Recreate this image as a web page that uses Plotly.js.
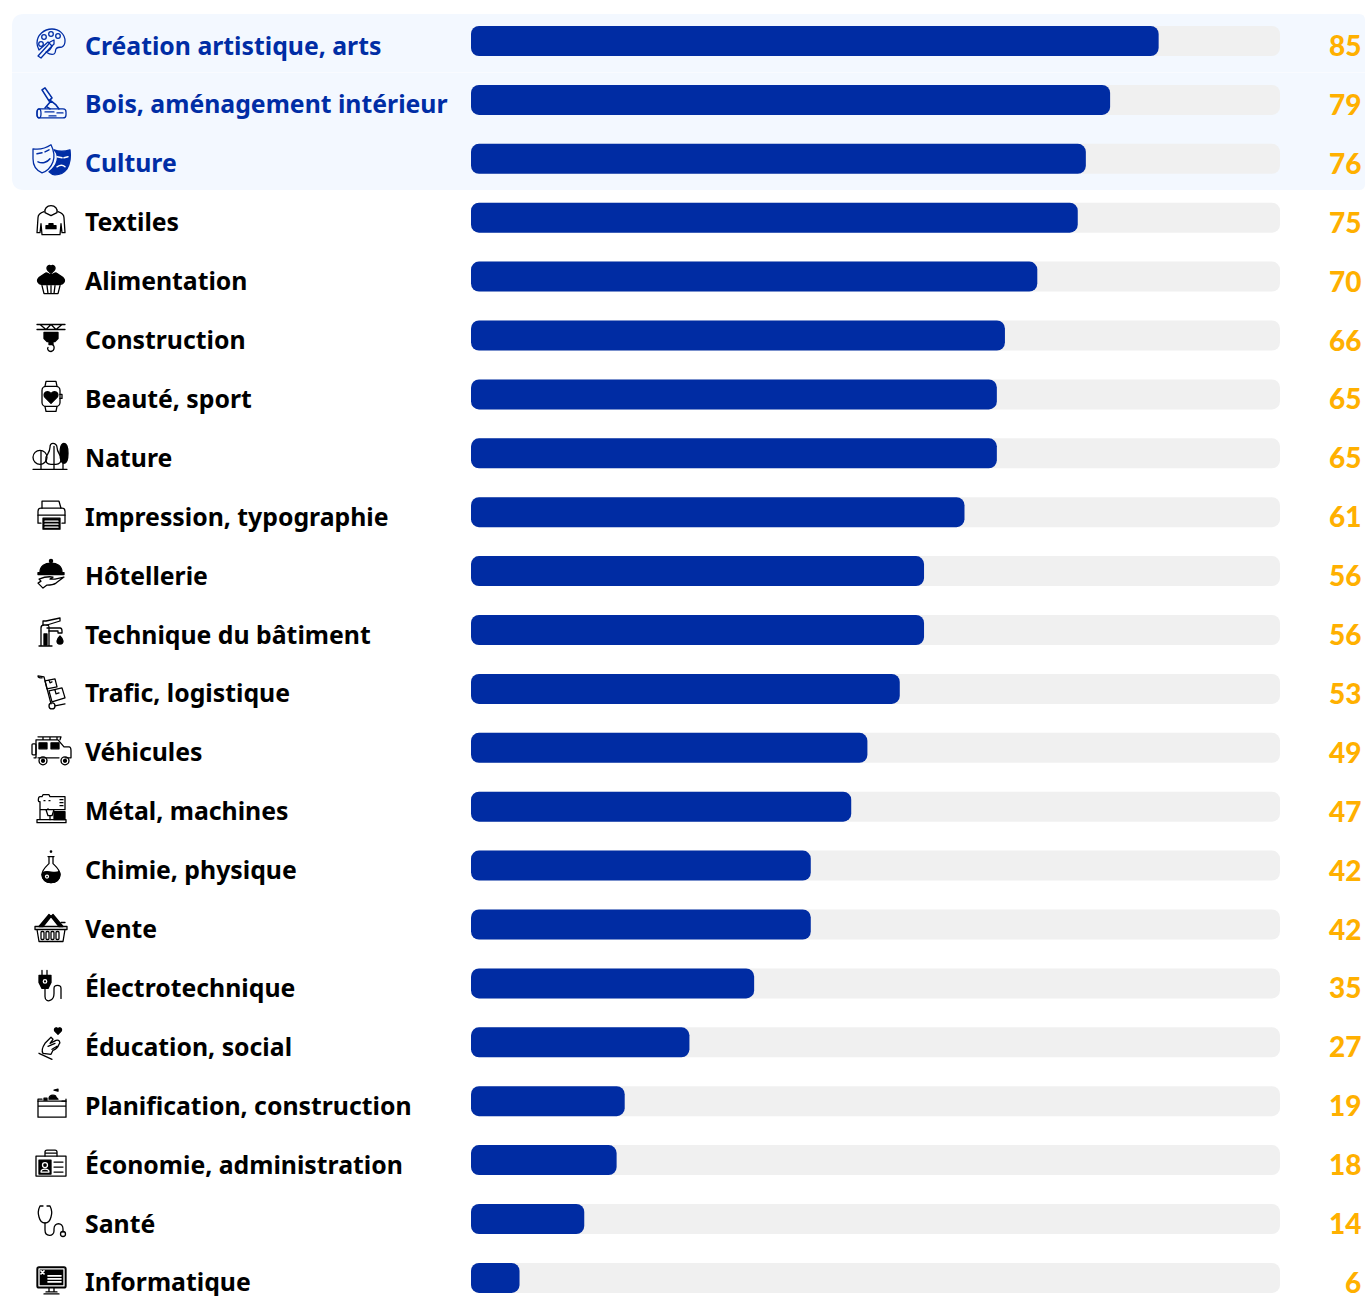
<!DOCTYPE html>
<html>
<head>
<meta charset="utf-8">
<script src="https://cdn.plot.ly/plotly-3.0.1.min.js"></script>
<style>html,body{margin:0;padding:0;background:#fff;overflow:hidden}#chart{width:1365px;height:1296px}</style>
</head>
<body>
<div id="chart"></div>
<script>
const categories = ["Création artistique, arts","Bois, aménagement intérieur","Culture","Textiles","Alimentation","Construction","Beauté, sport","Nature","Impression, typographie","Hôtellerie","Technique du bâtiment","Trafic, logistique","Véhicules","Métal, machines","Chimie, physique","Vente","Électrotechnique","Éducation, social","Planification, construction","Économie, administration","Santé","Informatique"];
const values = [85,79,76,75,70,66,65,65,61,56,56,53,49,47,42,42,35,27,19,18,14,6];
const trackMax = 100;
const highlighted = ["Création artistique, arts","Bois, aménagement intérieur","Culture"];

const BLUE = "#002DA5", INK = "#000000", GOLD = "#FFB000", TRACK = "#F0F0F0", BAND = "#F3F8FF";
const W = 1365, H = 1296, PL = 471, PR = 1280, TOP = 41, STEP = 58.9;
const px = x => (x - PL) / (PR - PL);
const py = y => 1 - y / H;

const icons = [
 `<path d="M25 10c-8 0-15 6-15 14 0 3 1 5 2 7l9-8 4 4c-1 3-3 5-6 6 3 2 6 3 8 2 2-1 1-3 2-5 1-2 3-2 6-2 2-1 3-2 3-6 0-7-6-12-13-12z"/><circle cx="17" cy="18" r="2.3"/><circle cx="24" cy="15" r="2.3"/><circle cx="31" cy="17" r="2.3"/><circle cx="14" cy="25" r="2.3"/><path d="M11 37l10-11 2-3 4-2 0 4-3 3-10 11z"/>`,
 `<rect x="10" y="31" width="29" height="9" rx="3"/><ellipse cx="12" cy="35.5" rx="2" ry="4.5"/><path d="M18 34h9M30 35h6M22 38h7"/><path d="M18 30l6-7 5 4 3 4M15 12l3-2 7 10-3 3zM20 29l3 2" stroke-width="1.6"/>`,
 `<path class="k" d="M27 13c5 2 10 2 16 0 1 7 0 14-3 19-3 4-8 6-12 6-2 0-5-2-6-3 4-3 7-7 8-11 1-4 0-8-3-11z"/><path d="M30 20l5 1M37 21l4-1M30 30c3-2 6-2 8 0" stroke="#fff" stroke-width="1.500"/><path d="M6 12c6 1 12 0 18-4 3 6 4 11 2 17-2 6-7 10-11 11-5-2-9-7-9-14z" fill="#F3F8FF"/><path d="M10 17l5-1M18 15l4-2M11 25c4 2 9 1 12-3" stroke-width="1.500"/>`,
 `<path d="M17 16c-3 1-6 3-6 6l-1 15h3l1-9 1 11h18l1-11 1 9h3l-1-15c0-3-3-5-6-6"/><path d="M18 17c-1-4 2-7 6-7s7 3 6 7l-6 3z"/><path class="k" d="M19 33v-3h3v-2h4v2h3v3z"/>`,
 `<path class="k" d="M24 20c-3 0-4-3-6-1l-6 4c-3 3-1 6 3 7h18c4-1 6-4 3-7l-6-4c-2-2-3 1-6 1z"/><path class="k" d="M24 19l-3-3c-3-4 2-7 3-4 1-3 6 0 3 4z"/><path d="M15 31l2 8h14l2-8M20 31l1 8M24 31v8M28 31l-1 8"/>`,
 `<path d="M10 11h28M13 11l6 5 5-5 5 5 6-5M10 16h28"/><path class="k" d="M17 19h14v6l-3 3h-8l-3-3z"/><rect class="k" x="22" y="28" width="4" height="3"/><path d="M25 31c3 1 3 6-1 7-3 0-4-3-3-4"/>`,
 `<rect x="15" y="14" width="18" height="20" rx="4"/><path d="M18 14l1-5h10l1 5M18 34l1 5h10l1-5M33 22h2v4h-2"/><path class="k" d="M24 31l-6-6c-3-4 2-8 6-4 4-4 9 0 6 4z"/>`,
 `<g transform="translate(-2 0)"><path d="M8 38h34M16 38V20M29 38V15M38 38V20"/><circle cx="15" cy="26" r="7"/><path d="M26 33c-4 0-6-2-5-7 1-3 4-5 4-10 0-2 1-4 3-4s4 2 4 4c0 5 3 7 4 10 1 5-2 7-5 7z"/><path class="k" d="M39 12c3 0 4 5 4 10 0 6-1 10-4 10s-4-4-4-10c0-5 1-10 4-10z"/></g>`,
 `<path d="M15 18v-7h17l2 7"/><path d="M14 33H11V21c0-2 1-3 3-3h21c2 0 3 1 3 3v12h-3"/><path d="M11 25h27"/><path class="k" d="M16 28h17v11H16z"/><path d="M18 31h13M18 34h13M18 37h13" stroke="#fff"/>`,
 `<path class="k" d="M13 23c0-6 5-9 11-9s11 3 11 9z"/><circle class="k" cx="24" cy="12" r="1.6"/><path class="k" d="M11 23.500h26v2H11z"/><path d="M12 30c5-2 9-3 14-2l-3 2h5l9-2-8 6c-3 2-6 2-9 2l-4 3-5-5 3-2z"/>`,
 `<path d="M14 38V20c0-2 1-3 3-3h3c2 0 2 1 2 3v18zM12 38h13"/><path d="M16 17v-4h3l14-3v3l-13 4"/><path d="M20 20h13c1 0 2 1 2 3v2h-4v-2H22"/><path class="k" d="M33 28c2 2 3 4 3 5a3 3 0 0 1-6 0c0-1 1-3 3-5z"/><path class="k" d="M17 26h3v11h-3z"/>`,
 `<path d="M11 9l6 1 7 27M11 9c0 2 2 2 4 2"/><circle cx="25" cy="39" r="3"/><path d="M18 14l10-2 2 8-10 2zM22 24l13-3 3 10-13 4zM22 13l1 3 2-1M28 23l1 4 3-1M28 39l10-2"/>`,
 `<g transform="translate(-2 0)"><rect x="7" y="18" width="4" height="11" rx="1"/><path d="M11 14h22l6 7h5c2 0 2 2 2 4v7h-6M9 32h2v-18M13 32h21M13 11h23l-1 3M18 11v3M25 11v3M32 11v3"/><path class="k" d="M14 17h8v6h-8zM26 17h8v6h-8z"/><circle cx="18" cy="35" r="4"/><circle cx="40" cy="35" r="4"/><circle class="k" cx="18" cy="35" r="1.5"/><circle class="k" cx="40" cy="35" r="1.500"/></g>`,
 `<path d="M10 38h29v-3H10zM13 35V17h-1c-1 0-1-5 1-5h2l1-2h6l1 2h15v13H13M21 25v-1M19 25h8l-2 6h-4z"/><path d="M33 15h3M33 18h3M33 21h3M23 31v4"/><path class="k" d="M27 27h11v8H27z"/><path d="M17 16h1M22 16h1"/>`,
 `<path d="M21 13h6M22 13v7c-3 3-7 6-7 11 0 5 4 8 9 8s9-3 9-8c0-5-4-8-7-11v-7"/><path class="k" d="M16 29c5-3 11 2 16-1 1 1 1 2 1 3 0 5-4 8-9 8s-9-3-9-8z"/><circle cx="20" cy="33" r="1.5" stroke="#fff"/><circle cx="24" cy="8" r=".7"/>`,
 `<path d="M8 24h32v3H8zM10 27l2 12h24l2-12"/><path class="k" d="M12 24l10-12 2 2-8 10zM36 24L26 12l-2 2 8 10z"/><rect x="14" y="29" width="3" height="8" rx="1"/><rect x="19" y="29" width="3" height="8" rx="1"/><rect x="24" y="29" width="3" height="8" rx="1"/><rect x="29" y="29" width="3" height="8" rx="1"/><path d="M34 20h4"/>`,
 `<path d="M15 9v5M20 9v5M12 14h12"/><path class="k" d="M12 15h12v6l-3 6h-6l-3-6z"/><circle cx="18" cy="20" r="1.700" stroke="#fff"/><path d="M18 27v8c0 4 3 5 5 4 3-1 4-3 4-7v-5c0-4 7-4 7 0v10"/>`,
 `<path class="k" d="M31 14l-3-3c-2-3 2-5 3-2 1-3 5-1 3 2z"/><path d="M16 33c-2-3 0-7 2-10l6-6 2 2-3 4 6-3c3-1 5 2 3 4-1 3-3 5-6 6l-2 4zM12 33l13 6M21 26l7-3M25 29l5-3"/>`,
 `<path d="M11 22h28v16H11zM11 27h28"/><path d="M11 22v-2h4M35 22h4v-2"/><path class="k" d="M22 20c0-3 2-4 4-4 2 0 3 1 3 2l2 2zM27 11l4-1v2zM17 19h3v2h-3z"/>`,
 `<rect x="9" y="18" width="30" height="20"/><path d="M18 18v-4c0-1 1-2 2-2h8c1 0 2 1 2 2v4M18 15h12"/><path class="k" d="M12 22h12v14H12z"/><circle cx="18" cy="27" r="2.500" stroke="#fff"/><path d="M14 34c0-4 8-4 8 0z" stroke="#fff"/><path d="M27 24h9M27 29h9M27 34h9"/>`,
 `<path d="M16 9h-3c-2 4-2 8-1 11 1 4 3 6 6 6s5-2 6-6c1-3 1-7-1-11h-3"/><path d="M18 26v7c0 7 9 7 9 1v-2c0-7 9-7 9 0v3"/><circle cx="36" cy="37" r="2.500"/>`,
 `<rect class="k" x="10" y="11" width="29" height="21" rx="2"/><rect x="12" y="13" width="25" height="17" stroke="#fff" fill="none"/><path d="M21 20h13M21 23h13M21 26h13M14 15l3 3M17 15l-3 3" stroke="#fff" stroke-width="1.600"/><path d="M22 32v4h5v-4M17 38h15M19 36h11"/>`
];

function iconUri(body, color) {
  const marked = body.replace(/class="k"/g, `fill="${color}" stroke="${color}"`);
  const svg = `<svg xmlns="http://www.w3.org/2000/svg" width="48" height="48" viewBox="0 0 48 48"><g fill="none" stroke="${color}" stroke-width="1.300" stroke-linejoin="round" stroke-linecap="round">${marked}</g></svg>`;
  return "data:image/svg+xml;charset=utf-8," + encodeURIComponent(svg);
}

const images = categories.map((c, i) => ({
  source: iconUri(icons[i], highlighted.includes(c) ? BLUE : INK),
  xref: "paper", yref: "paper",
  x: px(51), y: py(TOP + STEP * i + 2),
  sizex: 48 / (PR - PL), sizey: 48 / H,
  xanchor: "center", yanchor: "middle", layer: "above"
}));

const nameLabels = categories.map(c => ({
  xref: "paper", yref: "y", x: px(83), y: c,
  text: c, showarrow: false, xanchor: "left", yanchor: "middle", yshift: -3.5,
  font: {family: "'Noto Sans', sans-serif", size: 24.8, weight: 700, color: highlighted.includes(c) ? BLUE : INK}
}));
const valueLabels = categories.map((c, i) => ({
  xref: "paper", yref: "y", x: px(1363), y: c,
  text: String(values[i]), showarrow: false, xanchor: "right", yanchor: "middle", yshift: -4,
  font: {family: "Lato, sans-serif", size: 28, weight: 900, color: GOLD}
}));

const r = 12;
const bandPath = `M ${px(1365)} ${py(20)} L ${px(1365)} ${py(184)} Q ${px(1365)} ${py(190)} ${px(1359)} ${py(190)} L ${px(12 + r)} ${py(190)} Q ${px(12)} ${py(190)} ${px(12)} ${py(190 - r)} L ${px(12)} ${py(14 + r)} Q ${px(12)} ${py(14)} ${px(12 + r)} ${py(14)} L ${px(1359)} ${py(14)} Q ${px(1365)} ${py(14)} ${px(1365)} ${py(20)} Z`;

// Plotly rounds both ends of a bar that has an explicit base.
const barWidth = 30 / STEP;
const bar = (x, color, xa, ya) => ({
  type: "bar", orientation: "h", y: categories, x, base: categories.map(() => 0),
  width: barWidth, xaxis: xa, yaxis: ya,
  marker: {color, cornerradius: 8, line: {width: 0}}, hoverinfo: "skip"
});
const traces = [
  bar(categories.map(() => trackMax), TRACK, "x", "y"),
  bar(values, "#002CA3", "x2", "y2")
];

const xAxis = extra => Object.assign({range: [0, trackMax], showgrid: false, zeroline: false, showticklabels: false, showline: false, ticks: "", fixedrange: true}, extra);
const yAxis = extra => Object.assign({type: "category", categoryorder: "array", categoryarray: categories,
  range: [(H - TOP) / STEP, -TOP / STEP], showgrid: false, zeroline: false, showticklabels: false, showline: false, ticks: "", fixedrange: true}, extra);

const layout = {
  width: W, height: H, showlegend: false, barmode: "overlay",
  margin: {l: PL, r: W - PR, t: 0, b: 0, pad: 0},
  paper_bgcolor: "#fff", plot_bgcolor: "rgba(0,0,0,0)",
  xaxis: xAxis({}), yaxis: yAxis({}),
  xaxis2: xAxis({overlaying: "x", anchor: "y2"}), yaxis2: yAxis({overlaying: "y", anchor: "x2"}),
  shapes: [
    {type: "path", xref: "paper", yref: "paper", path: bandPath, fillcolor: BAND, line: {width: 0}, layer: "below"},
    {type: "line", xref: "paper", yref: "paper", x0: px(12), x1: px(1365), y0: py(72.5), y1: py(72.5), line: {color: "#F9FBFF", width: 1}, layer: "below"}
  ],
  annotations: nameLabels.concat(valueLabels),
  images: images
};
Plotly.newPlot("chart", traces, layout, {displayModeBar: false, staticPlot: true});
</script>
</body>
</html>
